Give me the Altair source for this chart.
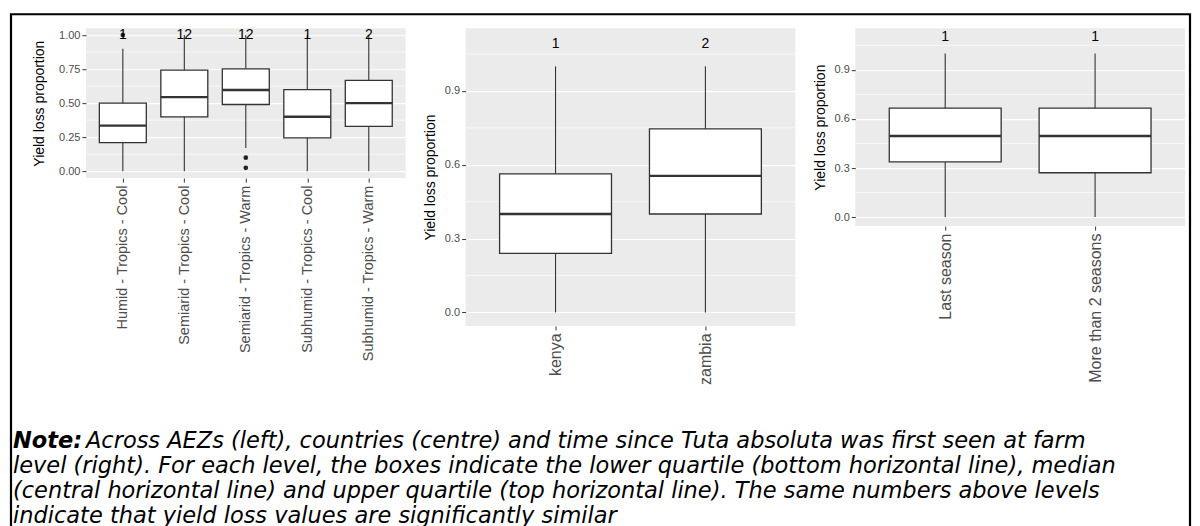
import altair as alt
import pandas as pd

# ---------------- data ----------------
aez = ["Humid - Tropics - Cool", "Semiarid - Tropics - Cool", "Semiarid - Tropics - Warm",
       "Subhumid - Tropics - Cool", "Subhumid - Tropics - Warm"]
aez_low = [0.0, 0.0, 0.17, 0.0, 0.0]
aez_q1 = [0.21, 0.40, 0.49, 0.245, 0.33]
aez_med = [0.335, 0.544, 0.596, 0.40, 0.50]
aez_q3 = [0.50, 0.743, 0.752, 0.60, 0.667]
aez_high = [0.90, 1.0, 1.0, 1.0, 1.0]
aez_group = ["1", "12", "12", "1", "2"]
aez_out_cat = ["Humid - Tropics - Cool", "Semiarid - Tropics - Warm", "Semiarid - Tropics - Warm"]
aez_out_val = [1.0, 0.10, 0.025]

country = ["kenya", "zambia"]
country_low = [0.0, 0.0]
country_q1 = [0.24, 0.40]
country_med = [0.40, 0.555]
country_q3 = [0.563, 0.746]
country_high = [1.0, 1.0]
country_group = ["1", "2"]

since = ["Last season", "More than 2 seasons"]
since_low = [0.0, 0.0]
since_q1 = [0.337, 0.271]
since_med = [0.496, 0.496]
since_q3 = [0.666, 0.666]
since_high = [1.0, 1.0]
since_group = ["1", "1"]

ticks_p1 = [0.0, 0.25, 0.5, 0.75, 1.0]
minor_p1 = [0.125, 0.375, 0.625, 0.875]
ticks_p23 = [0.0, 0.3, 0.6, 0.9]
minor_p23 = [0.15, 0.45, 0.75, 1.05]

note_head = "Note:"
note_lines = [
    "Across AEZs (left), countries (centre) and time since Tuta absoluta was first seen at farm",
    "level (right). For each level, the boxes indicate the lower quartile (bottom horizontal line), median",
    "(central horizontal line) and upper quartile (top horizontal line). The same numbers above levels",
    "indicate that yield loss values are significantly similar",
]

FONT = "Liberation Sans"
NOTE_FONT = "DejaVu Sans"
NOTE_SIZE = 22.5


def panel(cats, low, q1, med, q3, high, group, domain, ticks, fmt, minor,
          label_y, out_cat=None, out_val=None, box_w=47, xfs=16, tpad=7):
    df = pd.DataFrame({"cat": cats, "low": low, "q1": q1, "med": med, "q3": q3,
                       "high": high, "group": group, "ly": [label_y] * len(cats)})
    yscale = alt.Scale(domain=domain, nice=False, zero=False)
    yaxis = alt.Axis(values=ticks, format=fmt, title="Yield loss proportion", titlePadding=tpad)
    xenc = alt.X("cat:N", sort=cats, scale=alt.Scale(type="point", padding=0.6),
                 axis=alt.Axis(title=None, labelAngle=270, labelAlign="right",
                               labelBaseline="middle", labelFontSize=xfs, labelLimit=0,
                               labelOverlap=False, labelPadding=3))
    base = alt.Chart(df)
    minor_rules = alt.Chart(pd.DataFrame({"v": minor})).mark_rule(
        color="white", strokeWidth=0.6).encode(y=alt.Y("v:Q", scale=yscale, axis=yaxis))
    whisk = base.mark_rule(color="#333333", strokeWidth=1.1).encode(
        x=xenc, y=alt.Y("low:Q", scale=yscale, axis=yaxis), y2="high:Q")
    box = base.mark_bar(size=box_w, fill="white", stroke="#333333", strokeWidth=1.3).encode(
        x=xenc, y=alt.Y("q1:Q", scale=yscale, axis=yaxis), y2="q3:Q")
    medl = base.mark_tick(size=box_w, thickness=2.4, color="#333333", opacity=1).encode(
        x=xenc, y=alt.Y("med:Q", scale=yscale, axis=yaxis))
    labels = base.mark_text(fontSize=14, color="black", font=FONT).encode(
        x=xenc, y=alt.Y("ly:Q", scale=yscale, axis=yaxis), text="group:N")
    layers = [minor_rules, whisk, box, medl]
    if out_cat is not None:
        odf = pd.DataFrame({"cat": out_cat, "v": out_val})
        layers.append(alt.Chart(odf).mark_circle(size=22, color="#222222", opacity=1).encode(
            x=xenc, y=alt.Y("v:Q", scale=yscale, axis=yaxis)))
    layers.append(labels)
    return layers


p1_layers = panel(aez, aez_low, aez_q1, aez_med, aez_q3, aez_high, aez_group,
                  [-0.05, 1.05], ticks_p1, ".2f", minor_p1, 1.0, aez_out_cat, aez_out_val,
                  xfs=14.5, tpad=12)

# decorations attached to the first panel: frame and note
one = pd.DataFrame({"a": [0]})
frame = alt.Chart(one).mark_rect(fillOpacity=0, stroke="black", strokeWidth=2.2).encode(
    x=alt.value(-75), x2=alt.value(1105), y=alt.value(-14), y2=alt.value(530))
note_marks = [alt.Chart(one).mark_text(font=NOTE_FONT, fontSize=NOTE_SIZE, fontStyle="italic",
                                       fontWeight="bold", align="left", baseline="middle",
                                       color="black").encode(
    x=alt.value(-73), y=alt.value(413.5), text=alt.value(note_head))]
for i, line in enumerate(note_lines):
    xoff = 0 if i == 0 else -73
    note_marks.append(alt.Chart(one).mark_text(font=NOTE_FONT, fontSize=NOTE_SIZE,
                                               fontStyle="italic", align="left",
                                               baseline="middle", color="black").encode(
        x=alt.value(xoff), y=alt.value(413.5 + 25 * i), text=alt.value(line)))

p1 = alt.layer(*p1_layers, frame, *note_marks).properties(width=320, height=150)

p2 = alt.layer(*panel(country, country_low, country_q1, country_med, country_q3, country_high,
                      country_group, [-0.055, 1.155], ticks_p23, ".1f", minor_p23,
                      1.09, box_w=112)).properties(width=330, height=298)

p3 = alt.layer(*panel(since, since_low, since_q1, since_med, since_q3, since_high,
                      since_group, [-0.055, 1.155], ticks_p23, ".1f", minor_p23,
                      1.1, box_w=112)).properties(width=330, height=198)

chart = alt.hconcat(p1, p2, p3, spacing=60, bounds="flush").properties(
    padding={"left": 1, "top": 4, "right": 0, "bottom": 0}
).configure_view(fill="#EBEBEB", stroke=None).configure_axis(
    domain=False, tickColor="#333333", tickSize=4, tickWidth=1,
    labelColor="#4D4D4D", labelFont=FONT, labelFontSize=11, labelPadding=2,
    titleFont=FONT, titleFontSize=14, titleFontWeight="normal", titleColor="black",
    gridColor="white", gridWidth=1.1
)

chart.save("out.html", embed_options={"renderer": "svg", "actions": False})
